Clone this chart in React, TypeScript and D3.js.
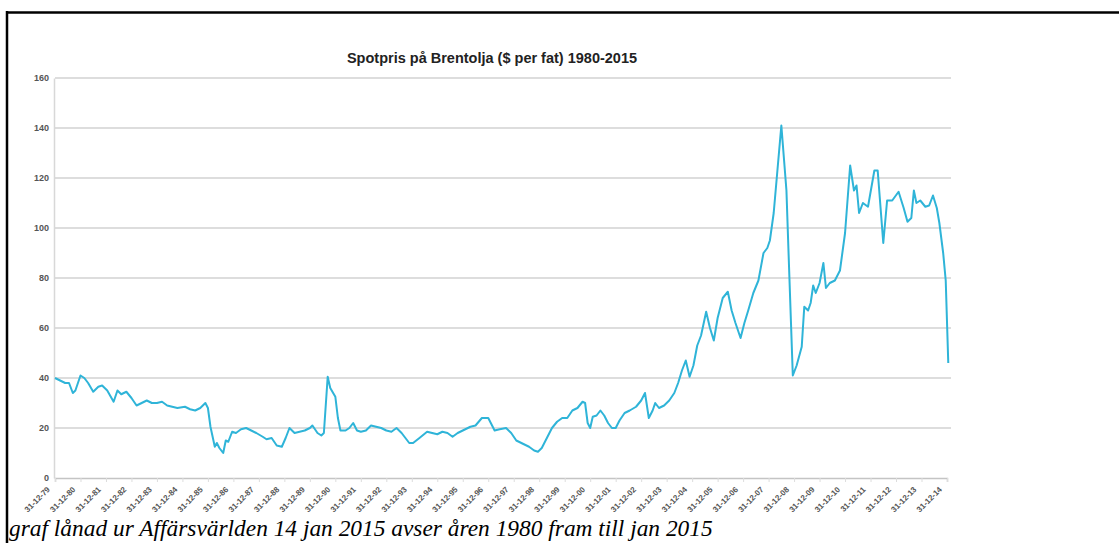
import React, { useRef, useEffect } from 'react'
import * as d3 from 'd3'

// Brent spot price (decimal year, $ per barrel)
const years = [
  1980.0, 1980.2, 1980.4, 1980.55, 1980.7, 1980.8, 1981.0, 1981.15, 1981.3, 1981.5,
  1981.7, 1981.85, 1982.05, 1982.3, 1982.45, 1982.6, 1982.8, 1983.0, 1983.2, 1983.4,
  1983.6, 1983.8, 1984.0, 1984.2, 1984.4, 1984.6, 1984.8, 1985.1, 1985.3, 1985.5,
  1985.7, 1985.9, 1986.0, 1986.1, 1986.27, 1986.35, 1986.45, 1986.6, 1986.7, 1986.8,
  1986.95, 1987.1, 1987.3, 1987.5, 1987.7, 1987.9, 1988.15, 1988.3, 1988.5, 1988.7,
  1988.9, 1989.05, 1989.2, 1989.4, 1989.6, 1989.8, 1990.0, 1990.1, 1990.3, 1990.45,
  1990.55, 1990.7, 1990.8, 1991.0, 1991.1, 1991.2, 1991.4, 1991.55, 1991.7, 1991.85,
  1992.0, 1992.2, 1992.4, 1992.6, 1992.8, 1993.0, 1993.2, 1993.4, 1993.6, 1993.75,
  1993.9, 1994.05, 1994.3, 1994.6, 1994.8, 1995.0, 1995.2, 1995.4, 1995.6, 1995.8,
  1996.0, 1996.3, 1996.5, 1996.75, 1997.0, 1997.1, 1997.25, 1997.45, 1997.7, 1997.9,
  1998.1, 1998.3, 1998.5, 1998.6, 1998.8, 1998.95, 1999.1, 1999.3, 1999.5, 1999.7,
  1999.9, 2000.1, 2000.3, 2000.5, 2000.7, 2000.8, 2000.9, 2001.0, 2001.1, 2001.25,
  2001.4, 2001.55, 2001.7, 2001.85, 2002.0, 2002.15, 2002.35, 2002.55, 2002.8, 2003.0,
  2003.15, 2003.3, 2003.45, 2003.55, 2003.7, 2003.9, 2004.1, 2004.3, 2004.45, 2004.6,
  2004.75, 2004.9, 2005.05, 2005.2, 2005.35, 2005.55, 2005.7, 2005.85, 2006.0, 2006.2,
  2006.4, 2006.55, 2006.7, 2006.9, 2007.05, 2007.2, 2007.4, 2007.6, 2007.8, 2007.95,
  2008.05, 2008.2, 2008.5, 2008.7, 2008.8, 2008.95, 2009.1, 2009.3, 2009.4, 2009.55,
  2009.65, 2009.75, 2009.85, 2010.0, 2010.15, 2010.25, 2010.4, 2010.6, 2010.8, 2011.0,
  2011.2, 2011.35, 2011.45, 2011.55, 2011.7, 2011.9, 2012.15, 2012.28, 2012.5, 2012.65,
  2012.85, 2013.1, 2013.3, 2013.45, 2013.6, 2013.7, 2013.8, 2013.95, 2014.15, 2014.3,
  2014.45, 2014.6, 2014.7, 2014.85, 2014.95, 2015.05,
]
const prices = [
  40, 39, 38, 38, 34, 35, 41, 40, 38, 34.5,
  36.5, 37, 35, 30.5, 35, 33.5, 34.5, 32, 29, 30,
  31, 30, 30, 30.5, 29, 28.5, 28, 28.5, 27.5, 27,
  28, 30, 28, 20.5, 12.5, 14, 12, 10, 15, 14.5,
  18.5, 18, 19.5, 20, 19, 18, 16.5, 15.5, 16, 13,
  12.5, 16, 20, 18, 18.5, 19, 20, 21, 18, 17,
  18, 40.5, 36, 32.5, 24, 19, 19, 20, 22, 19,
  18.5, 19, 21, 20.5, 20, 19, 18.5, 20, 18, 16,
  14, 14, 16, 18.5, 18, 17.5, 18.5, 18, 16.5, 18,
  19, 20.5, 21, 24, 24, 22, 19, 19.5, 20, 18,
  15, 14, 13, 12.5, 11, 10.5, 12, 16, 20, 22.5,
  24, 24, 27, 28, 30.5, 30, 22, 20, 24.5, 25,
  27, 25, 22, 20, 20, 23, 26, 27, 28.5, 31,
  34, 24, 27, 30, 28, 29, 31, 34, 38, 43,
  47, 40.5, 45, 53, 57, 66.5, 60, 55, 64, 72,
  74.5, 67, 62, 56, 62, 67, 74, 79, 90, 92,
  95, 106, 141, 115, 85, 41, 45, 52.5, 68.5, 67,
  70, 77, 74, 78, 86, 76, 78, 79, 83, 98,
  125, 115, 117, 106, 110, 108.5, 123, 123, 94, 111,
  111, 114.5, 108, 102.5, 104, 115, 110, 111, 108.5, 109,
  113, 108, 102, 90, 79, 46,
]
const yTicks = [0, 20, 40, 60, 80, 100, 120, 140, 160]
const tickYears = d3.range(1980, 2016)
const tickLabels = [
  '31-12-79', '31-12-80', '31-12-81', '31-12-82', '31-12-83', '31-12-84',
  '31-12-85', '31-12-86', '31-12-87', '31-12-88', '31-12-89', '31-12-90',
  '31-12-91', '31-12-92', '31-12-93', '31-12-94', '31-12-95', '31-12-96',
  '31-12-97', '31-12-98', '31-12-99', '31-12-00', '31-12-01', '31-12-02',
  '31-12-03', '31-12-04', '31-12-05', '31-12-06', '31-12-07', '31-12-08',
  '31-12-09', '31-12-10', '31-12-11', '31-12-12', '31-12-13', '31-12-14',
]
const title = 'Spotpris på Brentolja ($ per fat) 1980-2015'
const caption = 'graf lånad ur Affärsvärlden 14 jan 2015 avser åren 1980 fram till jan 2015'

const W = 1119
const H = 543

export default function App() {
  const ref = useRef<SVGSVGElement>(null)

  useEffect(() => {
    const svg = d3.select(ref.current)
    svg.selectAll('*').remove()

    const x = d3.scaleLinear().domain([1980, 2015]).range([55, 947])
    const y = d3.scaleLinear().domain([0, 160]).range([478, 78])

    // frame (top + left only)
    svg.append('line').attr('x1', 6).attr('x2', W).attr('y1', 12.5).attr('y2', 12.5)
      .attr('stroke', '#000').attr('stroke-width', 2.5)
    svg.append('line').attr('x1', 7).attr('x2', 7).attr('y1', 11).attr('y2', H)
      .attr('stroke', '#000').attr('stroke-width', 2.5)

    // grid
    svg.append('g')
      .selectAll('line')
      .data(yTicks.filter(d => d > 0))
      .join('line')
      .attr('x1', 55).attr('x2', 951)
      .attr('y1', d => y(d)).attr('y2', d => y(d))
      .attr('stroke', '#d2d2d2').attr('stroke-width', 1.5)

    // y axis
    const yAxis = svg.append('g')
      .attr('transform', 'translate(54,0)')
      .call(d3.axisLeft(y).tickValues(yTicks).tickSize(0).tickPadding(5))
    yAxis.select('.domain').attr('stroke', '#d8d8d8').attr('stroke-width', 1.5)
    yAxis.selectAll('text')
      .attr('font-family', 'Arial, "Liberation Sans", sans-serif')
      .attr('font-weight', 'bold').attr('font-size', 9).attr('fill', '#555')

    // x axis
    const xAxis = svg.append('g')
      .attr('transform', 'translate(0,478)')
      .call(d3.axisBottom(x).tickValues(tickYears).tickSize(4)
        .tickFormat((d, i) => tickLabels[i]))
    xAxis.select('.domain').attr('stroke', '#c4c4c4').attr('stroke-width', 1.5)
    xAxis.selectAll('.tick line').attr('stroke', '#ddd')
    xAxis.selectAll('text')
      .attr('font-family', 'Arial, "Liberation Sans", sans-serif')
      .attr('font-weight', 'bold').attr('font-size', 8).attr('fill', '#555')
      .attr('text-anchor', 'end')
      .attr('dy', 0).attr('y', 0)
      .attr('transform', 'translate(-5,12) rotate(-45)')

    // price line
    const line = d3.line<number>()
      .x((d, i) => x(years[i]))
      .y(d => y(d))
    svg.append('path')
      .datum(prices)
      .attr('d', line)
      .attr('fill', 'none')
      .attr('stroke', '#2fb4d8')
      .attr('stroke-width', 2)
      .attr('stroke-linejoin', 'round')

    // title
    svg.append('text')
      .attr('x', 492).attr('y', 63)
      .attr('text-anchor', 'middle')
      .attr('font-family', 'Arial, "Liberation Sans", sans-serif')
      .attr('font-weight', 'bold').attr('font-size', 14.5).attr('fill', '#222')
      .text(title)

    // caption
    svg.append('text')
      .attr('x', 9).attr('y', 536)
      .attr('font-family', '"Liberation Serif", "DejaVu Serif", serif')
      .attr('font-style', 'italic').attr('font-size', 23.4).attr('fill', '#000')
      .text(caption)
  }, [])

  return (
    <svg
      ref={ref}
      width={W}
      height={H}
      style={{ position: 'absolute', left: 0, top: 0, background: '#fff' }}
    ></svg>
  )
}
